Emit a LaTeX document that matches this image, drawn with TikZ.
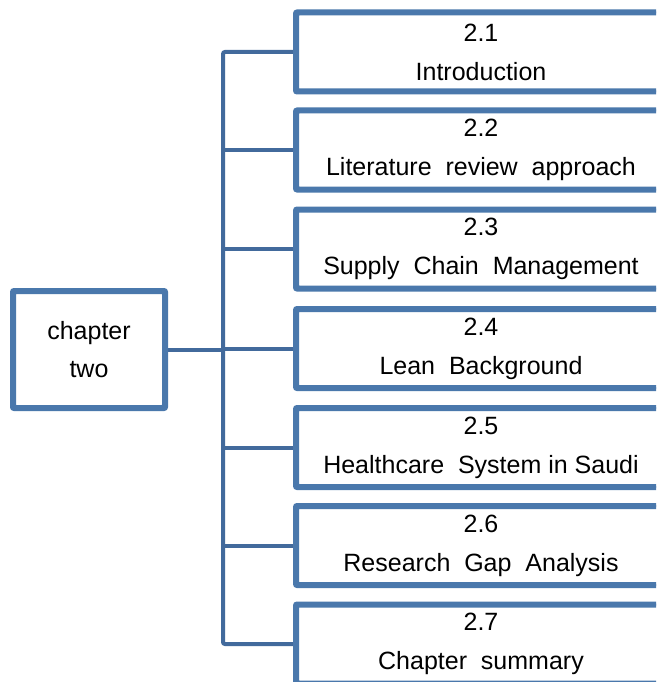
\documentclass[tikz,border=0pt]{standalone}
\usepackage{fontspec}
\setmainfont{Liberation Sans}
\definecolor{boxblue}{RGB}{74,120,172}
\definecolor{linkblue}{RGB}{66,106,156}
\begin{document}
\begin{tikzpicture}[x=1pt,y=-1pt,
  box/.style={draw=boxblue, line width=4pt, rounded corners=2pt, fill=white,
    minimum width=368pt, minimum height=77pt, align=center, inner sep=0pt,
    font=\fontsize{25pt}{39pt}\selectfont},
  rootbox/.style={draw=boxblue, line width=4pt, rounded corners=2pt, fill=white,
    minimum width=150pt, minimum height=115pt, align=center, inner sep=0pt,
    font=\fontsize{25pt}{38pt}\selectfont},
  link/.style={draw=linkblue, line width=4pt}]
\clip (0,0) rectangle (656,682);
\fill[white] (0,0) rectangle (656,682);
% chapter node and its sections
\node[rootbox] (ch) at (89,349.5) {chapter\\two};
\node[box] (s1) at (481,52)  {2.1\\Introduction};
\node[box] (s2) at (481,150) {2.2\\Literature\ \ review\ \ approach};
\node[box] (s3) at (481,249) {2.3\\Supply\ \ Chain\ \ Management};
\node[box] (s4) at (481,348.5) {2.4\\Lean\ \ Background};
\node[box] (s5) at (481,447.5) {2.5\\Healthcare\ \ System in Saudi};
\node[box] (s6) at (481,545.5) {2.6\\Research\ \ Gap\ \ Analysis};
\node[box] (s7) at (481,644) {2.7\\Chapter\ \ summary};
% vertical bus
\coordinate (bus) at (223,0);
\draw[link, rounded corners=2pt] (s1.west) -- (s1.west -| bus) -- (s7.west -| bus) -- (s7.west);
\foreach \s in {s2,s3,s4,s5,s6}
  \draw[link] (\s.west) -- (\s.west -| bus);
\draw[link] (ch.east) -- (ch.east -| bus);
% redraw section borders on top of the links
\foreach \s in {s1,s2,s3,s4,s5,s6,s7}
  \draw[boxblue, line width=4pt, rounded corners=2pt] (\s.north west) rectangle (\s.south east);
\draw[boxblue, line width=4pt, rounded corners=2pt] (ch.north west) rectangle (ch.south east);
\end{tikzpicture}
\end{document}
